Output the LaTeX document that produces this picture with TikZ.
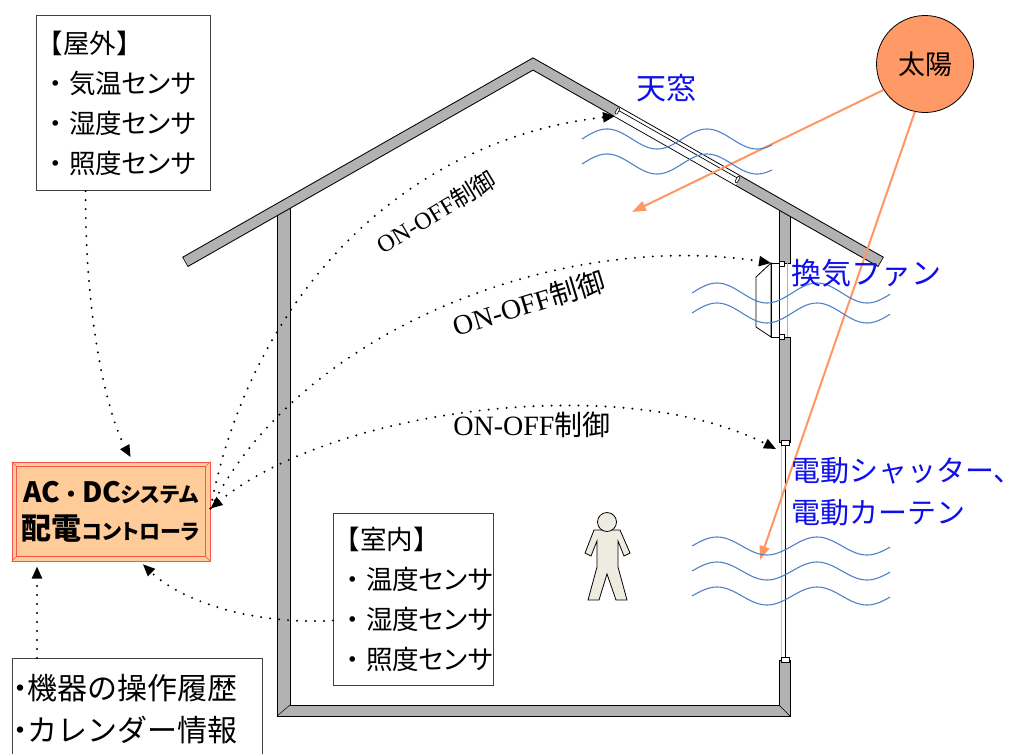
\documentclass[tikz,border=0pt]{standalone}
\usepackage{fontspec}
\setmainfont{Liberation Serif}
\newfontfamily\jp{Noto Sans CJK JP}
\newfontfamily\jpp[RawFeature=+palt]{Noto Sans CJK JP}
\usetikzlibrary{arrows.meta}

\definecolor{wallgray}{RGB}{178,178,178}
\definecolor{peach}{RGB}{255,204,153}
\definecolor{ctrlred}{RGB}{245,85,75}
\definecolor{sunfill}{RGB}{255,153,102}
\definecolor{rayc}{RGB}{255,150,100}
\definecolor{wavec}{RGB}{80,130,200}
\definecolor{labelblue}{RGB}{15,15,235}
\definecolor{skin}{RGB}{238,236,225}

\tikzset{
  wall/.style={fill=wallgray, draw=black, line width=0.9pt},
  infobox/.style={draw=black!75, line width=1.1pt, fill=white, inner xsep=0pt, inner ysep=0pt, align=left, anchor=north west},
  sensortext/.style={font=\jp\fontsize{26.5}{40}\selectfont},
  ctl/.style={line width=2.2pt, dash pattern=on 0pt off 9pt, line cap=round},
  tipk/.style={-{Triangle[length=12pt,width=10pt]}},
  ray/.style={draw=rayc, line width=2pt, -{Triangle[length=14pt,width=10pt]}},
  wave/.style={draw=wavec, line width=1.1pt},
  onoff/.style={inner sep=0pt, font=\fontsize{28}{28}\selectfont},
  devlabel/.style={text=labelblue, inner sep=0pt, font=\jp\fontsize{30}{30}\selectfont},
  hinge/.style={draw=black, fill=white, line width=0.6pt},
}

\begin{document}
\begin{tikzpicture}[x=1pt,y=-1pt]
\useasboundingbox (0,0) rectangle (1019,753);
\clip (0,0) rectangle (1019,753);

% ---------- house walls ----------
\filldraw[wall] (277,205) -- (277,716) -- (790,716) -- (790,660) -- (779,660)
  -- (779,705) -- (290,705) -- (290,205) -- cycle;
\draw[line width=0.5pt] (277,716) -- (290,705) (790,716) -- (779,705);
\filldraw[wall] (779,205) rectangle (790,263);
\filldraw[wall] (779,337) rectangle (790,442);

% ---------- roof ----------
\draw[line width=11.5pt, line join=miter, black] (185,262) -- (533,64) -- (881,262);
\draw[line width=9.5pt, line join=miter, wallgray, shorten <=0.8pt, shorten >=0.8pt]
  (185,262) -- (533,64) -- (881,262);

% skylight set in the roof
\draw[line width=9.5pt, white] (616.4,111.5) -- (738.1,180.7);
\draw[line width=0.7pt] (617.4,109.8) -- (739.1,179.0);
\node[hinge, rounded corners=1pt, minimum width=2.5pt, minimum height=7pt, inner sep=0pt, rotate=-29.6] (hingeA) at (617.4,111.0) {};
\node[hinge, rounded corners=1pt, minimum width=2.5pt, minimum height=7pt, inner sep=0pt, rotate=-29.6] (hingeB) at (737.5,179.5) {};

% ---------- ventilation fan ----------
\filldraw[fill=white, draw=black, line width=0.8pt] (771,263) -- (756,277) -- (756,327) -- (771,337) -- cycle;
\filldraw[fill=white, draw=black, line width=0.8pt] (771,263) rectangle (779,337);
\draw[gray!60, line width=0.8pt] (787,263) -- (787,337);
\draw[hinge] (779,261) rectangle (784,266);
\draw[hinge] (779,334) rectangle (784,339);

% ---------- shutter / curtain ----------
\draw[gray!45, line width=0.9pt] (781,442) -- (781,660);
\draw[line width=0.9pt] (785.5,442) -- (785.5,660);
\draw[hinge] (781,440) rectangle (789,445);
\draw[hinge] (781,657) rectangle (789,662);

% ---------- person ----------
\filldraw[fill=skin, draw=black, line width=0.8pt]
  (594,530) -- (620,530) -- (630,553) -- (624,556) -- (618,541) -- (618,567)
  -- (627,600) -- (616,600) -- (607,574) -- (599,600) -- (588,600) -- (597,567)
  -- (597,541) -- (591,556) -- (585,553) -- cycle;
\filldraw[fill=skin, draw=black, line width=0.8pt] (607,522) circle[radius=9.5pt];

% ---------- sun and rays ----------
\node[circle, draw=black, line width=0.8pt, fill=sunfill, minimum size=97pt, inner sep=0pt,
  font=\jp\fontsize{27}{27}\selectfont] (sun) at (925,64) {太陽};
\coordinate (rayA) at (632,212);
\coordinate (rayB) at (760,560);
\draw[ray] (sun.212) -- (rayA);
\draw[ray] (sun.258) -- (rayB);

% ---------- air flow ----------
\foreach \yy in {139,164}
  \draw[wave] plot[domain=0:190, samples=80, smooth] ({582+\x},{\yy-10*sin(3.6*\x)});
\foreach \yy in {293,313}
  \draw[wave] plot[domain=0:198, samples=80, smooth] ({692+\x},{\yy-10*sin(3.6*\x)});
\foreach \yy in {546,571,596}
  \draw[wave] plot[domain=0:198, samples=80, smooth] ({692+\x},{\yy-9*sin(3.6*\x)});

% ---------- device labels ----------
\node[devlabel] (skylbl) at (666,88) {天窓};
\node[devlabel, anchor=west] (fanlbl) at (791,273) {換気ファン};
\node[devlabel, anchor=west, font=\jp\fontsize{29}{29}\selectfont] (shutlbl) at (791,471) {電動シャッター{\jpp 、}};
\node[devlabel, anchor=west, font=\jp\fontsize{29}{29}\selectfont] (curtlbl) at (791,513) {電動カーテン};

% ---------- controller ----------
\node[draw=ctrlred, fill=peach, line width=1pt, minimum width=198pt, minimum height=99pt,
  inner sep=0pt, align=center, font=\jp\bfseries\fontsize{28}{37}\selectfont] (ctrl) at (111,511.5)
  {AC{\fontsize{22}{37}\selectfont ・}DC{\jpp\fontsize{21}{37}\selectfont システム}\\
   {\fontsize{30}{37}\selectfont 配電}{\jpp\fontsize{21}{37}\selectfont コントローラ}};
\draw[ctrlred, line width=0.8pt] ([xshift=5pt,yshift=-5pt]ctrl.north west) rectangle ([xshift=-5pt,yshift=5pt]ctrl.south east);
\draw[ctrlred, line width=0.6pt]
  (ctrl.north west) -- ([xshift=5pt,yshift=-5pt]ctrl.north west)
  (ctrl.north east) -- ([xshift=-5pt,yshift=-5pt]ctrl.north east)
  (ctrl.south west) -- ([xshift=5pt,yshift=5pt]ctrl.south west)
  (ctrl.south east) -- ([xshift=-5pt,yshift=5pt]ctrl.south east);

% ---------- sensor and information boxes ----------
\node[infobox, sensortext, text width=174pt, minimum height=175pt] (outdoor) at (36,15)
  {【屋外】\\
   \hspace*{6pt}・気温{\jpp センサ}\\
   \hspace*{6pt}・湿度{\jpp センサ}\\
   \hspace*{6pt}・照度{\jpp センサ}};
\node[infobox, sensortext, text width=160pt, minimum height=172pt] (indoor) at (333,513)
  {【室内】\\
   \hspace*{6pt}・温度{\jpp センサ}\\
   \hspace*{6pt}・湿度{\jpp センサ}\\
   \hspace*{6pt}・照度{\jpp センサ}};
\node[infobox, font=\jp\fontsize{30}{42}\selectfont, text width=250pt, minimum height=102pt] (hist) at (12,658)
  {{\jpp ・}機器の操作履歴\\
   {\jpp ・}カレンダー情報};

% ---------- control links ----------
\coordinate (skyTip) at (615,116);
\coordinate (fanTip) at (771,263);
\coordinate (shutTip) at (776,449);
\draw[ctl, tipk] ([yshift=3pt]ctrl.east) .. controls (250,300) and (400,140) .. (skyTip);
\draw[ctl, tipk] ([yshift=3pt]ctrl.east) .. controls (300,330) and (560,230) .. (fanTip);
\draw[ctl, {Triangle[length=12pt,width=10pt]}-{Triangle[length=12pt,width=10pt]}]
  ([yshift=3pt]ctrl.east) .. controls (330,410) and (620,370) .. (shutTip);
\draw[ctl, tipk, shorten >=5pt] ([xshift=-38pt]outdoor.south) .. controls (85,330) and (110,420) .. ([xshift=22pt]ctrl.north);
\draw[ctl, tipk, shorten >=4pt] ([yshift=-21pt]indoor.west) .. controls (250,625) and (180,600) .. ([xshift=29pt]ctrl.south);
\draw[ctl, tipk, shorten >=5pt] ([xshift=25pt]hist.north west) -- ([xshift=-74pt]ctrl.south);

\node[onoff, font=\fontsize{24}{24}\selectfont, rotate=31] (onoffA) at (436,212) {ON-OFF{\jp 制御}};
\node[onoff, rotate=17] (onoffB) at (529,303) {ON-OFF{\jp 制御}};
\node[onoff] (onoffC) at (532,425) {ON-OFF{\jp 制御}};
\end{tikzpicture}
\end{document}
